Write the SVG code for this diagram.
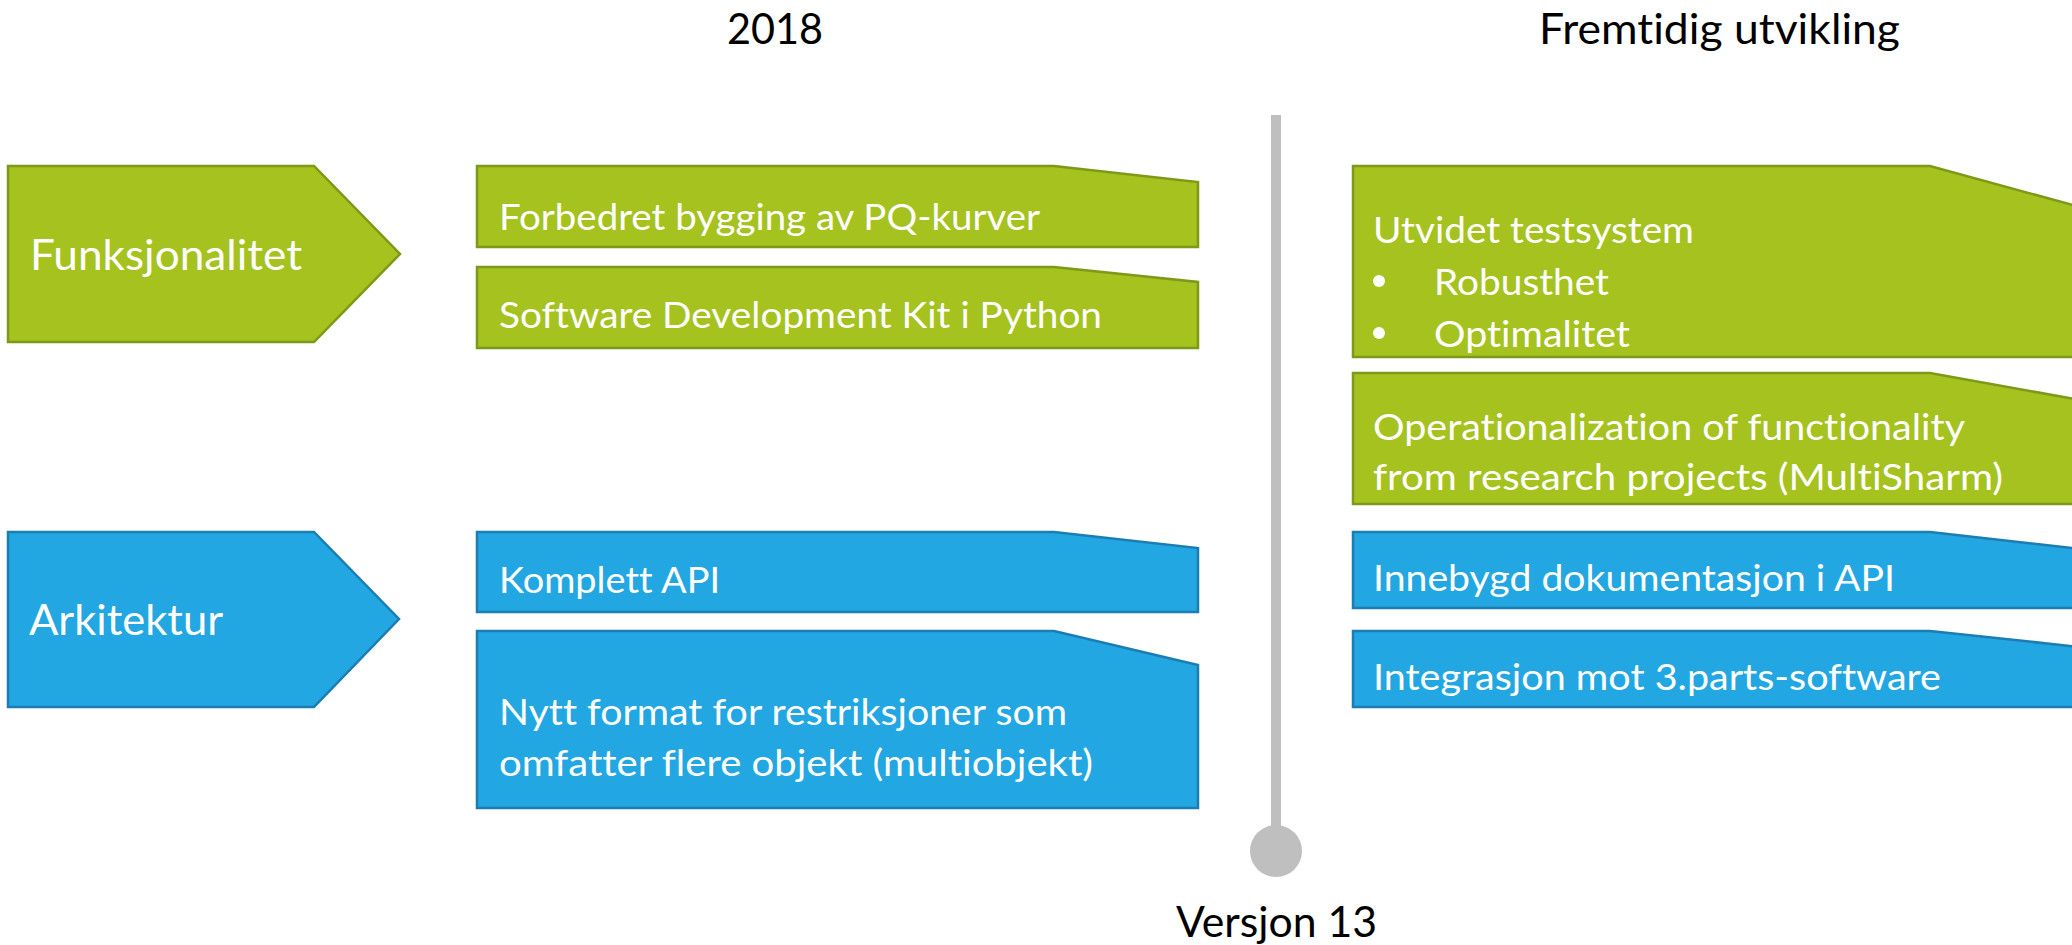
<svg xmlns="http://www.w3.org/2000/svg" width="2072" height="945" viewBox="0 0 2072 945">
<style>
.g{fill:#A5C21F;stroke:#7E9818;stroke-width:2.5;stroke-linejoin:miter}
.b{fill:#22A7E2;stroke:#1B7DB1;stroke-width:2.5;stroke-linejoin:miter}
text{font-variant-ligatures:none}
.t{font-family:Lato,"Open Sans","Liberation Sans",sans-serif;fill:#FFFFFF;font-size:36px}
.lbl{font-family:Lato,"Open Sans","Liberation Sans",sans-serif;fill:#FFFFFF;font-size:42px}
.h{font-family:Lato,"Open Sans","Liberation Sans",sans-serif;fill:#000000;font-size:42px}
.tl{fill:#BFBFBF}
</style>
<rect width="2072" height="945" fill="#FFFFFF"/>

<g id="headings">
<text class="h" x="727" y="44" textLength="96" lengthAdjust="spacingAndGlyphs">2018</text>
<text class="h" x="1539" y="44" textLength="361" lengthAdjust="spacingAndGlyphs">Fremtidig utvikling</text>
</g>

<g id="connectors">
<rect class="tl" x="1271" y="115" width="10" height="715"/>
<circle class="tl" cx="1276" cy="851" r="26"/>
</g>

<g id="versjon13">
<text class="h" x="1176" y="937" textLength="201" lengthAdjust="spacingAndGlyphs">Versjon 13</text>
</g>

<g id="funksjonalitet">
<polygon class="g" points="8,166 314,166 400,254 314,342 8,342"/>
<text class="lbl" x="30" y="270" textLength="272" lengthAdjust="spacingAndGlyphs">Funksjonalitet</text>
</g>

<g id="arkitektur">
<polygon class="b" points="8,532 314,532 399,619 314,707 8,707"/>
<text class="lbl" x="29" y="635" textLength="194" lengthAdjust="spacingAndGlyphs">Arkitektur</text>
</g>

<g id="pq-kurver">
<polygon class="g" points="477,166 1054,166 1198,182 1198,247 477,247"/>
<text class="t" x="499" y="230" textLength="541" lengthAdjust="spacingAndGlyphs">Forbedret bygging av PQ-kurver</text>
</g>

<g id="sdk-python">
<polygon class="g" points="477,267 1054,267 1198,282 1198,348 477,348"/>
<text class="t" x="499" y="328" textLength="603" lengthAdjust="spacingAndGlyphs">Software Development Kit i Python</text>
</g>

<g id="komplett-api">
<polygon class="b" points="477,532 1054,532 1198,548 1198,612 477,612"/>
<text class="t" x="499" y="593" textLength="221" lengthAdjust="spacingAndGlyphs">Komplett API</text>
</g>

<g id="nytt-format">
<polygon class="b" points="477,631 1054,631 1198,665 1198,808 477,808"/>
<text class="t" x="499" y="725" textLength="568" lengthAdjust="spacingAndGlyphs">Nytt format for restriksjoner som</text>
<text class="t" x="499" y="776" textLength="594" lengthAdjust="spacingAndGlyphs">omfatter flere objekt (multiobjekt)</text>
</g>

<g id="utvidet-testsystem">
<polygon class="g" points="1353,166 1930,166 2080,207 2080,357 1353,357"/>
<text class="t" x="1373" y="243" textLength="321" lengthAdjust="spacingAndGlyphs">Utvidet testsystem</text>
<circle cx="1379" cy="281" r="6" fill="#FFFFFF"/>
<text class="t" x="1434" y="295" textLength="175" lengthAdjust="spacingAndGlyphs">Robusthet</text>
<circle cx="1379" cy="333" r="6" fill="#FFFFFF"/>
<text class="t" x="1434" y="347" textLength="196" lengthAdjust="spacingAndGlyphs">Optimalitet</text>
</g>

<g id="operationalization">
<polygon class="g" points="1353,373 1930,373 2080,400 2080,504 1353,504"/>
<text class="t" x="1373" y="440" textLength="592" lengthAdjust="spacingAndGlyphs">Operationalization of functionality</text>
<text class="t" x="1373" y="490" textLength="630" lengthAdjust="spacingAndGlyphs">from research projects (MultiSharm)</text>
</g>

<g id="innebygd-dok">
<polygon class="b" points="1353,532 1930,532 2080,549 2080,608 1353,608"/>
<text class="t" x="1373" y="591" textLength="522" lengthAdjust="spacingAndGlyphs">Innebygd dokumentasjon i API</text>
</g>

<g id="integrasjon">
<polygon class="b" points="1353,631 1930,631 2080,647 2080,707 1353,707"/>
<text class="t" x="1373" y="690" textLength="568" lengthAdjust="spacingAndGlyphs">Integrasjon mot 3.parts-software</text>
</g>
</svg>
